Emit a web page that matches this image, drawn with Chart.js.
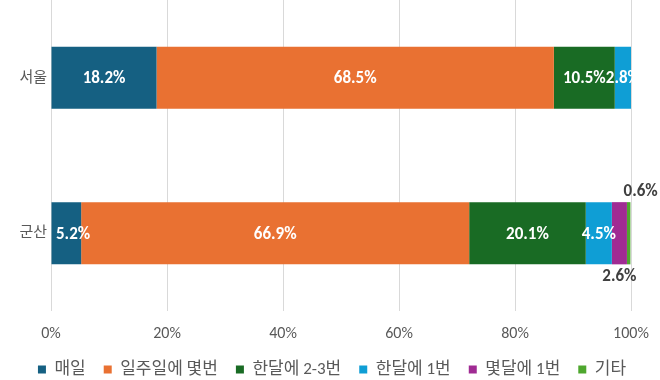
<!DOCTYPE html>
<html>
<head>
<meta charset="utf-8">
<script src="https://cdn.jsdelivr.net/npm/chart.js@4"></script>
<style>
  html, body { margin: 0; padding: 0; background: #ffffff; }
  #wrap { width: 660px; height: 380px; }
</style>
</head>
<body>
<div id="wrap"><canvas id="c" width="660" height="380"></canvas></div>
<script>
const categories = ['서울', '군산'];
const seriesNames = ['매일', '일주일에 몇번', '한달에 2-3번', '한달에 1번', '몇달에 1번', '기타'];
const seriesValues = [
  [18.2, 5.2],
  [68.5, 66.9],
  [10.5, 20.1],
  [2.8, 4.5],
  [0, 2.6],
  [0, 0.6]
];
const seriesColors = ['#156082', '#E97132', '#196B24', '#0F9ED5', '#A02B93', '#4EA72E'];
const xTicks = [0, 20, 40, 60, 80, 100];

const FONT = "Carlito, 'Noto Sans CJK KR', sans-serif";
const GRAY = '#595959';

// label placement per segment: 'in' (white, centered), 'below', 'above', or null
function labelMode(ds, idx, v) {
  if (!v) return null;
  if (idx === 1 && ds === 4) return 'below';
  if (idx === 1 && ds === 5) return 'above';
  return 'in';
}

const labelPlugin = {
  id: 'segLabels',
  afterDatasetsDraw(chart) {
    const ctx = chart.ctx;
    const area = chart.chartArea;
    ctx.save();
    ctx.font = 'bold 17px ' + FONT;
    ctx.textBaseline = 'middle';
    ctx.textAlign = 'center';
    chart.data.datasets.forEach((ds, di) => {
      const meta = chart.getDatasetMeta(di);
      meta.data.forEach((bar, i) => {
        const v = ds.data[i];
        const mode = labelMode(di, i, v);
        if (!mode) return;
        const txt = v.toFixed(1) + '%';
        const w = ctx.measureText(txt).width;
        const left = Math.min(bar.x, bar.base);
        const right = Math.max(bar.x, bar.base);
        let cx = (left + right) / 2;
        const h = bar.height;
        if (mode === 'in') {
          if (cx - w / 2 < area.left + 5) cx = area.left + 5 + w / 2;
          ctx.save();
          ctx.beginPath();
          ctx.rect(0, area.top, area.right + 2, area.bottom - area.top);
          ctx.clip();
          ctx.fillStyle = '#ffffff';
          ctx.fillText(txt, cx, bar.y + 1);
          ctx.restore();
        } else if (mode === 'below') {
          ctx.fillStyle = '#404040';
          ctx.fillText(txt, cx, bar.y + h / 2 + 12);
        } else if (mode === 'above') {
          ctx.fillStyle = '#404040';
          ctx.fillText(txt, cx + 12, bar.y - h / 2 - 10);
        }
      });
    });
    ctx.restore();
  }
};

new Chart(document.getElementById('c'), {
  type: 'bar',
  data: {
    labels: categories,
    datasets: seriesNames.map((n, i) => ({
      label: n,
      data: seriesValues[i],
      backgroundColor: seriesColors[i],
      borderWidth: 0,
      categoryPercentage: 1,
      barPercentage: 0.4
    }))
  },
  options: {
    indexAxis: 'y',
    responsive: false,
    animation: false,
    devicePixelRatio: 1,
    layout: { padding: { left: 4, right: 0, top: 0, bottom: -8 } },
    scales: {
      x: {
        stacked: true,
        min: 0,
        max: 100,
        afterBuildTicks(axis) { axis.ticks = xTicks.map(v => ({ value: v })); },
        afterFit(axis) {
          axis.height = 32;
          axis.paddingLeft = 0; axis.paddingRight = 29;
        },
        grid: { color: '#d9d9d9', drawTicks: false, lineWidth: 1 },
        border: { display: false },
        ticks: {
          padding: 13,
          color: GRAY,
          font: { family: FONT, size: 16 },
          callback: v => v + '%'
        }
      },
      y: {
        stacked: true,
        grid: { display: false, drawTicks: false },
        border: { display: false },
        afterFit(axis) {
          axis.width = 47;
          axis.paddingTop = 0; axis.paddingBottom = 0;
        },
        ticks: {
          padding: 4,
          color: GRAY,
          font: { family: FONT, size: 15 }
        }
      }
    },
    plugins: {
      legend: {
        position: 'bottom',
        labels: {
          color: GRAY,
          font: { family: FONT, size: 17 },
          boxWidth: 8,
          boxHeight: 8,
          padding: 18
        }
      },
      tooltip: { enabled: false }
    }
  },
  plugins: [labelPlugin]
});
</script>
</body>
</html>
